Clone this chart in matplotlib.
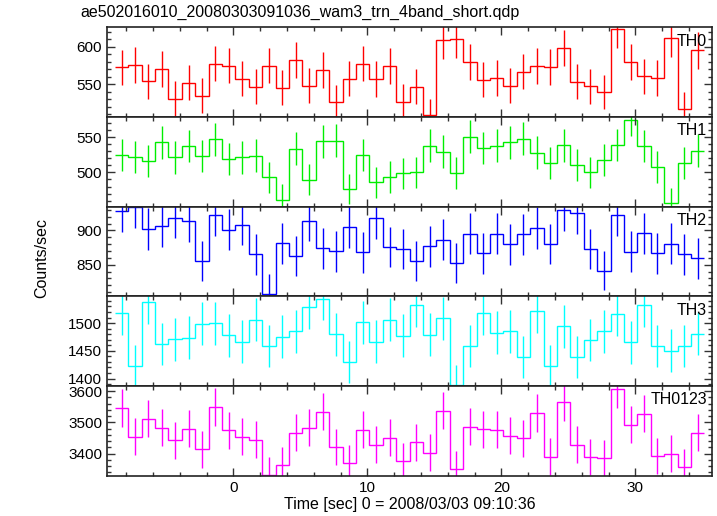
import numpy as np
import matplotlib
matplotlib.use("Agg")
import matplotlib.pyplot as plt
from matplotlib.ticker import AutoMinorLocator, MultipleLocator

plt.rcParams['font.family'] = ['Liberation Sans', 'DejaVu Sans']

# ================= DATA (1 s bins, counts/sec) =================
TITLE = "ae502016010_20080303091036_wam3_trn_4band_short.qdp"
BIN_START = -8.85
BIN_SIZE = 1.0

bands = ["TH0", "TH1", "TH2", "TH3", "TH0123"]
colors = ["#ff0000", "#00ee00", "#0000ff", "#00ffff", "#ff00ff"]

th0 = [572.4, 575.9, 554.0, 570.0, 530.8, 552.3, 534.8, 577.7, 575.0, 557.6,
       546.9, 575.0, 545.6, 581.8, 547.7, 568.8, 526.3, 557.6, 577.7, 557.0,
       574.1, 526.8, 546.9, 508.4, 609.0, 609.9, 579.1, 556.3, 558.5, 547.7,
       567.0, 574.1, 572.8, 598.3, 553.6, 547.3, 539.7, 623.3, 579.5, 560.7,
       558.5, 611.2, 517.4, 595.2]
th1 = [525.0, 522.2, 515.7, 543.0, 521.3, 537.5, 523.6, 547.2, 518.5, 521.3,
       524.0, 493.0, 461.5, 533.8, 489.8, 544.4, 544.9, 476.4, 525.0, 486.1,
       493.5, 498.6, 500.0, 537.9, 529.6, 499.0, 550.4, 534.7, 537.9, 543.0,
       547.6, 528.2, 513.9, 538.4, 510.6, 500.0, 517.1, 538.9, 575.0, 537.5,
       507.4, 457.0, 513.9, 531.0]
th2 = [928.7, 933.6, 902.0, 906.5, 918.8, 913.3, 855.2, 922.8, 901.0, 908.4,
       865.0, 807.4, 881.4, 863.0, 914.3, 874.0, 869.5, 905.0, 868.0, 918.3,
       875.9, 873.0, 855.2, 877.0, 886.2, 851.8, 895.1, 866.6, 895.1, 879.9,
       894.1, 903.6, 880.3, 929.1, 925.7, 873.0, 841.4, 922.8, 869.0, 895.6,
       866.6, 880.8, 865.0, 859.2]
th3 = [1518.3, 1422.5, 1537.9, 1462.1, 1470.7, 1473.8, 1498.7, 1499.4, 1478.0, 1466.5,
       1506.0, 1458.4, 1475.6, 1485.3, 1529.3, 1544.0, 1479.9, 1429.8, 1501.8, 1466.5,
       1506.0, 1477.5, 1532.4, 1479.3, 1508.6, 1387.7, 1459.2, 1517.8, 1483.0, 1485.3,
       1439.0, 1521.4, 1423.1, 1494.5, 1439.0, 1469.5, 1485.3, 1515.9, 1465.2, 1532.4,
       1459.2, 1450.5, 1459.2, 1481.1]
th0123 = [3545.6, 3453.8, 3510.8, 3482.3, 3442.0, 3479.0, 3413.6, 3548.7, 3474.7, 3453.8,
          3444.3, 3332.3, 3363.9, 3466.5, 3483.2, 3533.9, 3420.9, 3368.4, 3475.9, 3428.5,
          3450.6, 3374.7, 3435.8, 3403.2, 3537.0, 3349.4, 3485.4, 3477.8, 3475.9, 3457.0,
          3448.4, 3529.7, 3390.5, 3565.5, 3428.5, 3388.3, 3385.1, 3605.7, 3491.8, 3527.5,
          3391.5, 3400.0, 3355.7, 3466.5]

series = [th0, th1, th2, th3, th0123]
ylims = [(506.2, 626.0), (451.4, 578.6), (803.8, 934.6), (1386.4, 1548.2), (3329.0, 3616.0)]
ymajor = [50, 50, 50, 50, 100]

# ================= PLOT =================
fig = plt.figure(figsize=(7.17, 5.16), dpi=100)
left, right, top, bottom = 0.149, 0.9926, 0.947, 0.078
h = (top - bottom) / len(series)

for i, (name, col, vals) in enumerate(zip(bands, colors, series)):
    ax = fig.add_axes([left, top - (i + 1) * h, right - left, h])
    vals = np.array(vals)
    edges = BIN_START + BIN_SIZE * np.arange(len(vals) + 1)
    centers = 0.5 * (edges[:-1] + edges[1:])
    # poisson errors of the 1 s bins
    err = np.sqrt(vals * BIN_SIZE) / BIN_SIZE

    ax.stairs(vals, edges, baseline=None, color=col, lw=1.0)
    ax.vlines(centers, vals - err, vals + err, color=col, lw=1.0)

    ax.set_xlim(-9.45, 35.7)
    ax.set_ylim(*ylims[i])
    ax.xaxis.set_major_locator(MultipleLocator(10))
    ax.xaxis.set_minor_locator(AutoMinorLocator(5))
    ax.yaxis.set_major_locator(MultipleLocator(ymajor[i]))
    ax.yaxis.set_minor_locator(AutoMinorLocator(5))
    ax.tick_params(which='both', direction='in', top=True, right=True,
                   labelsize=11, width=1.0, color='#333333')
    ax.tick_params(which='major', length=6)
    ax.tick_params(which='minor', length=3)
    for sp in ax.spines.values():
        sp.set_linewidth(1.2)
        sp.set_color('#222222')
    if i < len(series) - 1:
        ax.tick_params(labelbottom=False)
    ax.text(0.992, 0.93, name, transform=ax.transAxes, ha='right', va='top',
            fontsize=11.5)

fig.text(80 / 717, 1 - 12 / 516, TITLE, fontsize=11.5, va='center', ha='left')
fig.text(42 / 717, 0.5, "Counts/sec", rotation=90, fontsize=11.5,
         va='center', ha='center')
fig.text(410 / 717, 1 - 505 / 516, "Time [sec] 0 = 2008/03/03 09:10:36",
         fontsize=11.5, va='center', ha='center')

plt.savefig("out.png", dpi=100)
